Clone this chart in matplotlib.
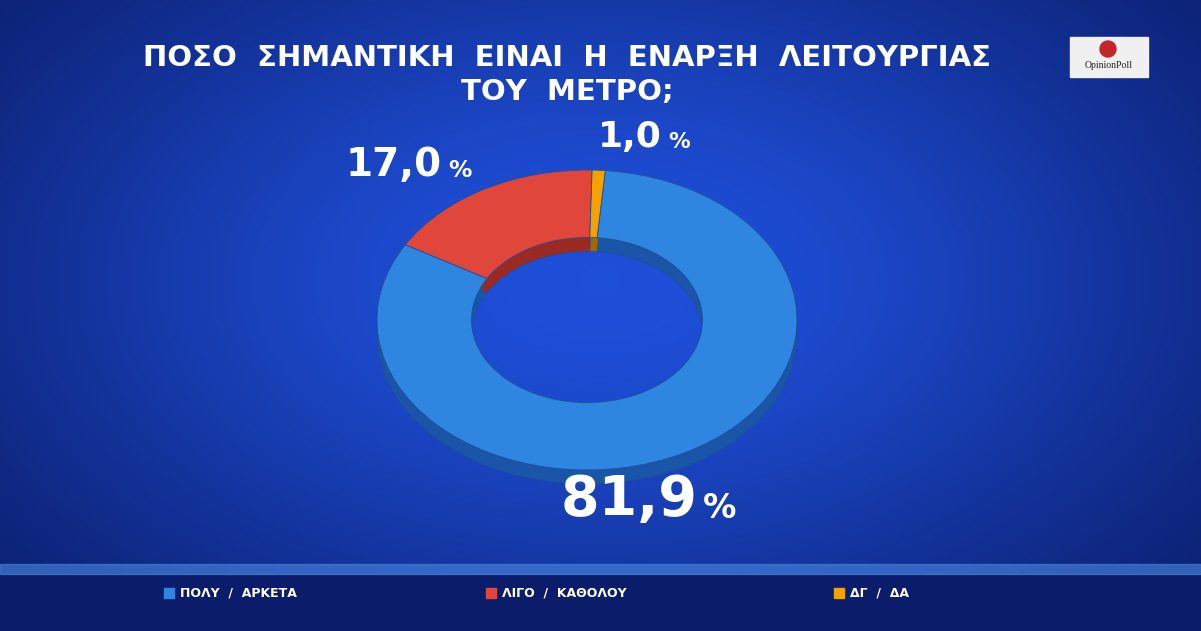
import matplotlib
matplotlib.use("Agg")
import matplotlib.pyplot as plt
import numpy as np
from matplotlib.patches import Rectangle

categories = ["ΠΟΛΥ  /  ΑΡΚΕΤΑ", "ΛΙΓΟ  /  ΚΑΘΟΛΟΥ", "ΔΓ  /  ΔΑ"]
values = [81.9, 17.0, 1.0]
labels = ["81,9", "17,0", "1,0"]
colors = ["#2f86e0", "#e0463a", "#f5a200"]
dark = ["#1a55a8", "#9a2a22", "#a06a00"]

fig = plt.figure(figsize=(12.01, 6.31), dpi=100)
bg = fig.add_axes([0, 0, 1, 1])
bg.set_xlim(0, 1201); bg.set_ylim(631, 0); bg.axis("off")
yy, xx = np.mgrid[0:631, 0:1201]
grad = np.exp(-(((xx - 600) / 700.0) ** 2 + ((yy - 280) / 420.0) ** 2))
img = np.zeros((631, 1201, 3))
img[..., 0] = 0.02 + 0.10 * grad
img[..., 1] = 0.06 + 0.25 * grad
img[..., 2] = 0.30 + 0.55 * grad
bg.imshow(img, extent=(0, 1201, 631, 0), aspect="auto")
bg.add_patch(Rectangle((0, 575), 1201, 56, color="#0b1c6a"))
bg.add_patch(Rectangle((0, 564), 1201, 10, color="#4a8ae0", alpha=0.6))
bg.add_patch(Rectangle((1070, 37), 78, 40, color="#f0f0f0"))
bg.text(1109, 68, "OpinionPoll", color="#222", fontsize=7, ha="center", family="Liberation Serif")
bg.add_patch(plt.Circle((1108, 49), 8, color="#c0262b"))

bg.text(567, 58, "ΠΟΣΟ  ΣΗΜΑΝΤΙΚΗ  ΕΙΝΑΙ  Η  ΕΝΑΡΞΗ  ΛΕΙΤΟΥΡΓΙΑΣ", color="white",
        fontsize=21, fontweight="bold", ha="center", va="center")
bg.text(567, 92, "ΤΟΥ  ΜΕΤΡΟ;", color="white", fontsize=21, fontweight="bold", ha="center", va="center")

cx, cy, rx, ry = 587, 320, 210, 150
for shift, cols in [(14, dark), (0, colors)]:
    ax = fig.add_axes([(cx - rx) / 1201, 1 - (cy + shift + ry) / 631, 2 * rx / 1201, 2 * ry / 631])
    ax.pie(values, colors=cols, startangle=85, counterclock=False,
           wedgeprops=dict(width=0.45, edgecolor="#1d4f9a", linewidth=0.6))
    ax.set_aspect("auto")
    ax.set_xlim(-1.0, 1.0); ax.set_ylim(-1.0, 1.0)

top = fig.add_axes([0, 0, 1, 1])
top.set_xlim(0, 1201); top.set_ylim(631, 0); top.axis("off")
lab_pos = [(697, 500, 40), (442, 165, 28), (662, 137, 26)]
for (x, y, fs), lab in zip(lab_pos, labels):
    top.text(x, y, lab, color="white", fontsize=fs, fontweight="bold", ha="right", va="center")
    top.text(x + 6, y + fs * 0.2, "%", color="white", fontsize=fs * 0.6, fontweight="bold", ha="left", va="center")

leg_x = [170, 492, 840]
for x, c, t in zip(leg_x, colors, categories):
    top.add_patch(Rectangle((x - 6, 588), 10, 10, color=c))
    top.text(x + 10, 593, t, color="white", fontsize=9, fontweight="bold", va="center")

fig.savefig("out.png", dpi=100)
